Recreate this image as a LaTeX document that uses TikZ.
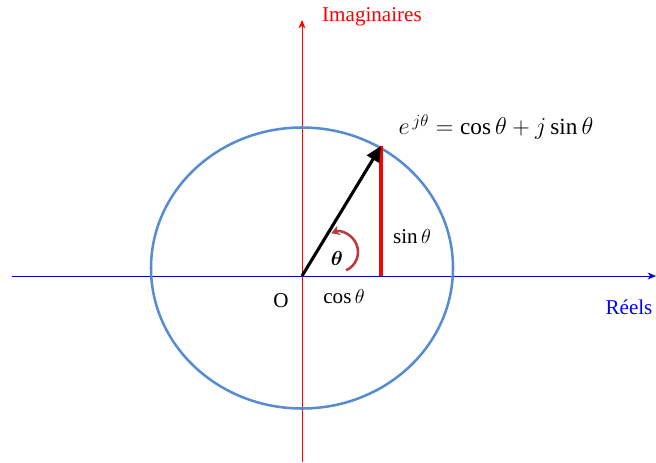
\documentclass[tikz,border=0pt]{standalone}
\usepackage{amsmath,amssymb}
\usepackage{fontspec}
\setmainfont{Liberation Serif}
\usepackage{xcolor}
\usepackage{tikz}
\usetikzlibrary{positioning,arrows.meta}

\definecolor{cercle}{RGB}{88,140,210}
\definecolor{arcrouge}{RGB}{185,60,60}

\begin{document}
\begin{tikzpicture}[x=0.025cm, y=0.025cm,
  axe/.style={line width=0.6pt, -{Stealth[length=6pt, width=5pt]}},
  lab/.style={inner sep=1pt, font=\fontsize{15}{17}\selectfont},
  vec/.style={line width=2.2pt, -{Stealth[length=11pt, width=10pt, inset=0pt]}},
]
  \useasboundingbox (0,0) rectangle (656,462);
  % points
  \coordinate (O) at (302,186);
  \coordinate (C) at (302,194);
  \coordinate (P) at (381,316);
  \coordinate (H) at (381,186);
  \coordinate (Xg) at (12,186);
  \coordinate (Xd) at (656,186);
  \coordinate (Yb) at (302,0);
  \coordinate (Yh) at (302,442);
  \coordinate (A) at (338,210);

  % axes
  \draw[axe, blue!85!black] (Xg) -- (Xd);
  \draw[axe, red] (Yb) -- (Yh);

  % cercle unite
  \draw[cercle, line width=1.8pt] (C) ellipse [x radius=151, y radius=140.5];

  % projection et vecteur
  \draw[red, line width=3pt] (P) -- (H);
  \draw[vec] (O) -- (P);
  \draw[arcrouge, line width=1.8pt, -{Stealth[length=6pt, width=7pt]}]
    ([shift={(-66:20)}]A) arc[start angle=-66, end angle=110, radius=20];

  % textes
  \node[lab, red] (Im) at (372,445) {Imaginaires};
  \node[lab, blue] (Re) at (629,155) {Réels};
  \node[lab] (Olab) at (281,161) {O};
  \node[lab] (cos) at (344,165) {$\cos\theta$};
  \node[lab] (sin) at (412,225) {$\sin\theta$};
  \node[lab] (th) at (337,204) {$\boldsymbol{\theta}$};
  \node[lab, font=\fontsize{16.5}{18}\selectfont] (eq) at (496,335)
    {$e^{\,j\theta} = \cos\theta + j\sin\theta$};
\end{tikzpicture}
\end{document}
